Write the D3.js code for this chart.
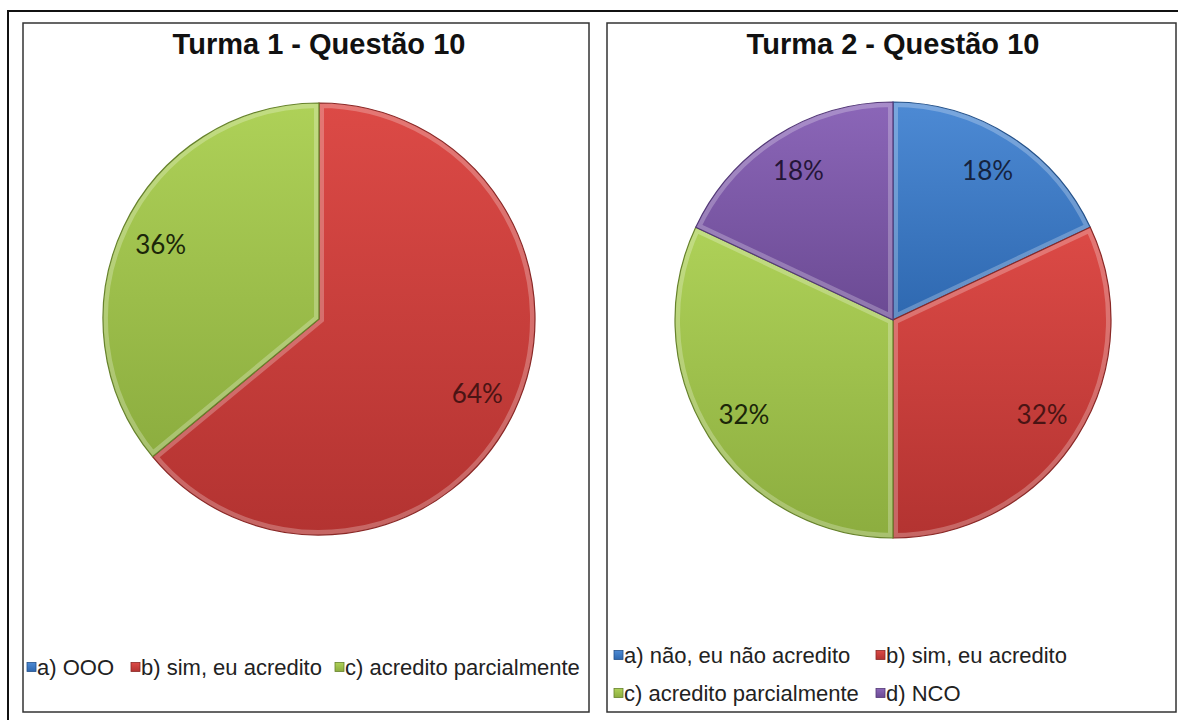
<!DOCTYPE html>
<html>
<head>
<meta charset="utf-8">
<script src="https://cdn.jsdelivr.net/npm/d3@7"></script>
<style>
  body { margin: 0; background: #fff; }
  svg { display: block; }
</style>
</head>
<body>
<svg id="chart" width="1178" height="720"></svg>
<script>

// data
let categories1 = ["a) OOO", "b) sim, eu acredito", "c) acredito parcialmente"]
let values1 = [0, 64, 36]
let categories2 = ["a) não, eu não acredito", "b) sim, eu acredito", "c) acredito parcialmente", "d) NCO"]
let values2 = [18, 32, 32, 18]
let titles = ["Turma 1 - Questão 10", "Turma 2 - Questão 10"]

let COLORS = {
    "a": {top: "#4d8ad4", bottom: "#2e68b0", line: "#25528a", text: "#15233f"},
    "b": {top: "#dc4a46", bottom: "#b33331", line: "#8a2826", text: "#4a1414"},
    "c": {top: "#aed158", bottom: "#8cad3f", line: "#66822b", text: "#1b2609"},
    "d": {top: "#8b66b8", bottom: "#6b4a93", line: "#533877", text: "#241538"}
}

let svg = d3.select("#chart")
let defs = svg.append("defs")

for(let k in COLORS){
    let g = defs.append("linearGradient")
        .attr("id", "grad-" + k)
        .attr("x1", 0).attr("y1", 0).attr("x2", 0).attr("y2", 1)
    g.append("stop").attr("offset", "0%").attr("stop-color", COLORS[k].top)
    g.append("stop").attr("offset", "100%").attr("stop-color", COLORS[k].bottom)
}

// outer frame
svg.append("rect")
    .attr("x", 8).attr("y", 11)
    .attr("width", 1200).attr("height", 740)
    .attr("fill", "none")
    .attr("stroke", "#111")
    .attr("stroke-width", 2)

function drawPie(opts){
    let box = svg.append("g")

    box.append("rect")
        .attr("x", opts.box[0]).attr("y", opts.box[1])
        .attr("width", opts.box[2]).attr("height", opts.box[3])
        .attr("fill", "#fff")
        .attr("stroke", "#333")
        .attr("stroke-width", 1.5)

    box.append("text")
        .attr("x", opts.cx)
        .attr("y", opts.titleY)
        .attr("text-anchor", "middle")
        .style("font-family", "'Liberation Sans', Arial, sans-serif")
        .style("font-weight", "bold")
        .style("font-size", "29px")
        .style("fill", "#111")
        .text(opts.title)

    let data = opts.categories.map((c, i) => ({name: c, key: c[0], value: opts.values[i]}))

    let pie = d3.pie()
        .sort(null)
        .value(d => d.value)

    let arc = d3.arc()
        .innerRadius(0)
        .outerRadius(opts.r)

    let labelArc = d3.arc()
        .innerRadius(opts.r * 0.81)
        .outerRadius(opts.r * 0.81)

    let arcs = pie(data).filter(d => d.data.value > 0)

    let g = box.append("g")
        .attr("transform", "translate(" + opts.cx + "," + opts.cy + ")")

    let slices = g.selectAll("g.slice").data(arcs)
        .enter()
        .append("g")
        .attr("class", "slice")

    slices.each(function(d, i){
        defs.append("clipPath")
            .attr("id", opts.id + "-clip-" + i)
            .append("path")
            .attr("d", arc(d))
    })

    slices.append("path")
        .attr("d", arc)
        .attr("fill", d => "url(#grad-" + d.data.key + ")")

    // bevel highlight on the inner edge
    slices.append("path")
        .attr("d", arc)
        .attr("fill", "none")
        .attr("stroke", "#fff")
        .attr("stroke-opacity", 0.25)
        .attr("stroke-width", 10)
        .attr("clip-path", (d, i) => "url(#" + opts.id + "-clip-" + i + ")")

    slices.append("path")
        .attr("d", arc)
        .attr("fill", "none")
        .attr("stroke", d => COLORS[d.data.key].line)
        .attr("stroke-width", 1.2)

    slices.append("text")
        .attr("transform", d => "translate(" + labelArc.centroid(d) + ")")
        .attr("text-anchor", "middle")
        .attr("dy", "0.35em")
        .style("font-family", "Lato, 'Open Sans', sans-serif")
        .style("font-size", "26px")
        .style("fill", d => COLORS[d.data.key].text)
        .text(d => d3.format(".0%")(d.data.value / 100))

    // legend
    let legend = box.selectAll("g.legend").data(data)
        .enter()
        .append("g")
        .attr("class", "legend")
        .attr("transform", (d, i) => "translate(" + opts.legendX[i] + "," + opts.legendY[i] + ")")

    legend.append("rect")
        .attr("x", 0).attr("y", -4.5)
        .attr("width", 9).attr("height", 9)
        .attr("fill", d => "url(#grad-" + d.key + ")")
        .attr("stroke", d => COLORS[d.key].line)
        .attr("stroke-width", 0.8)

    legend.append("text")
        .attr("x", 10)
        .attr("dy", "0.36em")
        .style("font-family", "'Liberation Sans', Arial, sans-serif")
        .style("font-size", "22px")
        .style("fill", "#222")
        .text(d => d.name)
}

drawPie({
    id: "p1",
    box: [23, 23, 566, 689],
    cx: 319, cy: 319, r: 216,
    titleY: 54,
    title: titles[0],
    categories: categories1,
    values: values1,
    legendX: [27, 131, 335],
    legendY: [667, 667, 667]
})

drawPie({
    id: "p2",
    box: [607, 23, 569, 689],
    cx: 893, cy: 320, r: 218,
    titleY: 54,
    title: titles[1],
    categories: categories2,
    values: values2,
    legendX: [614, 876, 614, 876],
    legendY: [655, 655, 693, 693]
})

</script>
</body>
</html>
